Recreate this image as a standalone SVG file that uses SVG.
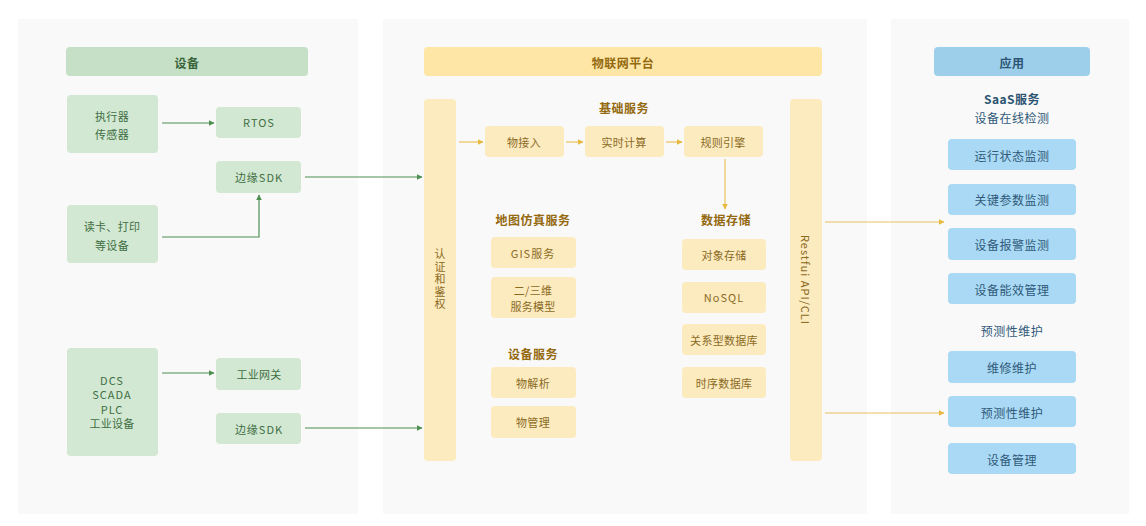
<svg xmlns="http://www.w3.org/2000/svg" width="1146" height="526" viewBox="0 0 1146 526">
<style>
text{font-family:"Noto Sans CJK SC","Noto Sans",sans-serif;font-size:11px;text-anchor:middle;dominant-baseline:central;letter-spacing:0.3px}
.panel{fill:#f9f9f9}
.gh{fill:#c5e0c6}
.gb{fill:#d2e8d3}
.gt{fill:#3f6e42}
.lat{letter-spacing:1px}
.ght{fill:#3a643c;font-weight:bold;font-size:12px;letter-spacing:0.5px}
.yh{fill:#fde6a6}
.yb{fill:#fdebc0}
.yt{fill:#8a6a1e}
.yht{fill:#94690f;font-weight:bold;font-size:12px;letter-spacing:0.5px}
.bh{fill:#9dcfeb}
.bb{fill:#a9d9f4}
.bt{fill:#30597a;font-size:12px;letter-spacing:0.5px}
.bht{fill:#2c5573;font-weight:bold;font-size:12px;letter-spacing:0.5px}
.vt{writing-mode:tb;letter-spacing:1.5px}
.ga{stroke:#4d8f50;stroke-width:1.2;fill:none}
.ya{stroke:#e8c15a;stroke-width:1.2;fill:none}
</style>
<defs>
<marker id="mg" viewBox="0 0 10 10" refX="9" refY="5" markerWidth="6" markerHeight="6" orient="auto" markerUnits="userSpaceOnUse"><path d="M0,0 L10,5 L0,10 z" fill="#4d8f50"/></marker>
<marker id="my" viewBox="0 0 10 10" refX="9" refY="5" markerWidth="6" markerHeight="6" orient="auto" markerUnits="userSpaceOnUse"><path d="M0,0 L10,5 L0,10 z" fill="#e8b93f"/></marker>
</defs>
<rect width="1146" height="526" fill="#ffffff"/>
<g id="panels">
<rect class="panel" x="18" y="19" width="340" height="495"/>
<rect class="panel" x="383" y="19" width="484" height="495"/>
<rect class="panel" x="891" y="19" width="238" height="495"/>
</g>
<g id="connectors">
<line class="ga" x1="162" y1="123" x2="214" y2="123" marker-end="url(#mg)"/>
<polyline class="ga" points="162,237 259,237 259,195" marker-end="url(#mg)"/>
<line class="ga" x1="305" y1="177" x2="422" y2="177" marker-end="url(#mg)"/>
<line class="ga" x1="162" y1="373" x2="214" y2="373" marker-end="url(#mg)"/>
<line class="ga" x1="305" y1="428" x2="422" y2="428" marker-end="url(#mg)"/>
<line class="ya" x1="459" y1="142" x2="483" y2="142" marker-end="url(#my)"/>
<line class="ya" x1="566" y1="142" x2="583" y2="142" marker-end="url(#my)"/>
<line class="ya" x1="666" y1="142" x2="682" y2="142" marker-end="url(#my)"/>
<line class="ya" x1="725" y1="159" x2="725" y2="209" marker-end="url(#my)"/>
<line class="ya" x1="825" y1="222" x2="944" y2="222" marker-end="url(#my)"/>
<line class="ya" x1="825" y1="413" x2="944" y2="413" marker-end="url(#my)"/>
</g>
<g id="dev-header"><rect class="gh" x="66" y="47" width="242" height="29" rx="4"/><text class="ght" x="187" y="62">设备</text></g>
<g id="dev-sensor"><rect class="gb" x="67" y="95" width="91" height="58" rx="4"/><text class="gt" x="112" y="116">执行器</text><text class="gt" x="112" y="134">传感器</text></g>
<g id="dev-rtos"><rect class="gb" x="216" y="107" width="85" height="31" rx="4"/><text class="gt lat" x="259" y="122">RTOS</text></g>
<g id="dev-sdk1"><rect class="gb" x="216" y="161" width="85" height="32" rx="4"/><text class="gt lat" x="259" y="177">边缘SDK</text></g>
<g id="dev-card"><rect class="gb" x="67" y="205" width="91" height="58" rx="4"/><text class="gt" x="112" y="226">读卡、打印</text><text class="gt" x="112" y="245">等设备</text></g>
<g id="dev-dcs"><rect class="gb" x="67" y="348" width="91" height="108" rx="4"/><text class="gt lat" x="112" y="380">DCS</text><text class="gt lat" x="112" y="394">SCADA</text><text class="gt lat" x="112" y="409">PLC</text><text class="gt" x="112" y="423">工业设备</text></g>
<g id="dev-gateway"><rect class="gb" x="216" y="358" width="85" height="32" rx="4"/><text class="gt" x="259" y="374">工业网关</text></g>
<g id="dev-sdk2"><rect class="gb" x="216" y="413" width="85" height="31" rx="4"/><text class="gt lat" x="259" y="429">边缘SDK</text></g>
<g id="iot-header"><rect class="yh" x="424" y="47" width="398" height="29" rx="4"/><text class="yht" x="623" y="62">物联网平台</text></g>
<g id="iot-auth"><rect class="yb" x="424" y="99" width="32" height="362" rx="4"/><text class="yt vt" x="440" y="280">认证和鉴权</text></g>
<g id="iot-api"><rect class="yb" x="790" y="99" width="32" height="362" rx="4"/><text class="yt lat" transform="translate(806,280) rotate(90)" x="0" y="0">Restfui API/CLI</text></g>
<g id="t-basic"><text class="yht" x="624" y="107">基础服务</text></g>
<g id="iot-access"><rect class="yb" x="485" y="126" width="79" height="31" rx="4"/><text class="yt" x="524" y="142">物接入</text></g>
<g id="iot-compute"><rect class="yb" x="585" y="126" width="79" height="31" rx="4"/><text class="yt" x="624" y="142">实时计算</text></g>
<g id="iot-rule"><rect class="yb" x="684" y="126" width="79" height="31" rx="4"/><text class="yt" x="723" y="142">规则引擎</text></g>
<g id="t-map"><text class="yht" x="533" y="219">地图仿真服务</text></g>
<g id="iot-gis"><rect class="yb" x="491" y="237" width="85" height="31" rx="4"/><text class="yt lat" x="533" y="253">GIS服务</text></g>
<g id="iot-model"><rect class="yb" x="491" y="277" width="85" height="41" rx="4"/><text class="yt" x="533" y="290">二/三维</text><text class="yt" x="533" y="306">服务模型</text></g>
<g id="t-devsvc"><text class="yht" x="533" y="353">设备服务</text></g>
<g id="iot-parse"><rect class="yb" x="491" y="367" width="85" height="31" rx="4"/><text class="yt" x="533" y="383">物解析</text></g>
<g id="iot-manage"><rect class="yb" x="491" y="406" width="85" height="32" rx="4"/><text class="yt" x="533" y="422">物管理</text></g>
<g id="t-storage"><text class="yht" x="726" y="219">数据存储</text></g>
<g id="iot-object"><rect class="yb" x="682" y="239" width="84" height="31" rx="4"/><text class="yt" x="724" y="255">对象存储</text></g>
<g id="iot-nosql"><rect class="yb" x="682" y="282" width="84" height="31" rx="4"/><text class="yt lat" x="724" y="297">NoSQL</text></g>
<g id="iot-rdb"><rect class="yb" x="682" y="324" width="84" height="31" rx="4"/><text class="yt" x="724" y="340">关系型数据库</text></g>
<g id="iot-tsdb"><rect class="yb" x="682" y="367" width="84" height="31" rx="4"/><text class="yt" x="724" y="383">时序数据库</text></g>
<g id="app-header"><rect class="bh" x="934" y="47" width="156" height="29" rx="4"/><text class="bht" x="1012" y="62">应用</text></g>
<g id="t-saas"><text class="bht" x="1012" y="98">SaaS服务</text><text class="bt" x="1012" y="117">设备在线检测</text></g>
<g id="app-run"><rect class="bb" x="948" y="139" width="128" height="31" rx="4"/><text class="bt" x="1012" y="155">运行状态监测</text></g>
<g id="app-param"><rect class="bb" x="948" y="184" width="128" height="31" rx="4"/><text class="bt" x="1012" y="199">关键参数监测</text></g>
<g id="app-alarm"><rect class="bb" x="948" y="228" width="128" height="32" rx="4"/><text class="bt" x="1012" y="244">设备报警监测</text></g>
<g id="app-energy"><rect class="bb" x="948" y="273" width="128" height="31" rx="4"/><text class="bt" x="1012" y="289">设备能效管理</text></g>
<g id="t-predict"><text class="bt" x="1012" y="330">预测性维护</text></g>
<g id="app-repair"><rect class="bb" x="948" y="351" width="128" height="32" rx="4"/><text class="bt" x="1012" y="367">维修维护</text></g>
<g id="app-predict"><rect class="bb" x="948" y="396" width="128" height="31" rx="4"/><text class="bt" x="1012" y="412">预测性维护</text></g>
<g id="app-manage"><rect class="bb" x="948" y="443" width="128" height="31" rx="4"/><text class="bt" x="1012" y="459">设备管理</text></g>
</svg>
